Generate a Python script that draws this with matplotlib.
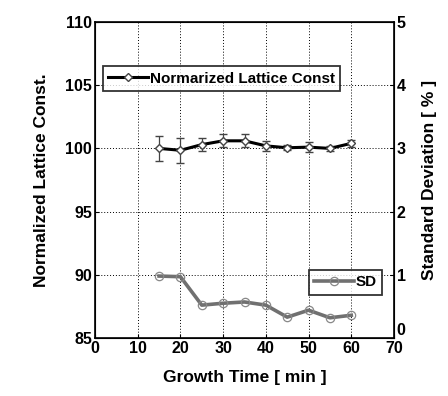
import matplotlib
matplotlib.use("Agg")
import matplotlib.pyplot as plt
from matplotlib.lines import Line2D

plt.rcParams['font.family'] = ['Liberation Sans', 'DejaVu Sans']
plt.rcParams['font.weight'] = 'bold'

time_min = [15, 20, 25, 30, 35, 40, 45, 50, 55, 60]
lattice = [100.0, 99.85, 100.3, 100.6, 100.6, 100.2, 100.05, 100.1, 100.0, 100.4]
lattice_err = [1.0, 1.0, 0.5, 0.5, 0.5, 0.4, 0.2, 0.4, 0.2, 0.3]
sd = [0.98, 0.97, 0.52, 0.55, 0.57, 0.52, 0.33, 0.44, 0.32, 0.36]

fig = plt.figure(figsize=(4.48, 3.96), dpi=100)
ax = fig.add_axes([95/448, 58/396, 299/448, 316/396])

ax.errorbar(time_min, lattice, yerr=lattice_err, color='black', lw=2.2,
            marker='D', ms=4, mfc='white', mec='#444444',
            ecolor='#444444', elinewidth=0.9, capsize=3)
ax.set_xlim(0, 70)
ax.set_ylim(85, 110)
ax.set_xticks(range(0, 71, 10))
ax.set_yticks(range(85, 111, 5))
ax.grid(True, ls=(0, (1, 2)), color='black', lw=0.7)
ax.tick_params(direction='in', labelsize=11.5, length=3, pad=2)
ax.set_xlabel('Growth Time [ min ]', fontsize=12.5, fontweight='bold', labelpad=10)
ax.set_ylabel('Normalized Lattice Const.', fontsize=12.5, fontweight='bold', labelpad=12)
for s in ax.spines.values():
    s.set_linewidth(1.2)

ax2 = ax.twinx()
ax2.plot(time_min, sd, color='#707070', lw=2.6, marker='o', ms=6,
         mfc='none', mec='#888888', mew=0.9)
ax2.set_ylim(0, 5)
ax2.set_yticks(range(0, 6))
ax2.tick_params(direction='in', labelsize=11.5, length=3, pad=2)
ax2.set_ylabel('Standard Deviation [ % ]', fontsize=12.5, fontweight='bold', labelpad=12)
ax2.get_yticklabels()[0].set_verticalalignment('bottom')

h1 = Line2D([], [], color='black', lw=2.2, marker='D', ms=4,
            mfc='white', mec='#444444')
h2 = Line2D([], [], color='#707070', lw=2.6, marker='o', ms=6,
            mfc='none', mec='#888888', mew=0.9)
leg1 = ax.legend([h1], ['Normarized Lattice Const'], loc='upper left',
                 bbox_to_anchor=(0.027, 0.86), fontsize=11,
                 frameon=True, fancybox=False, edgecolor='black',
                 handlelength=2.6, handletextpad=0.1, borderpad=0.35,
                 borderaxespad=0)
leg1.get_frame().set_linewidth(1.3)
leg2 = ax2.legend([h2], ['SD'], loc='upper right', bbox_to_anchor=(0.96, 0.215),
                  fontsize=11, frameon=True, fancybox=False, edgecolor='black',
                  handlelength=2.6, handletextpad=0.1, borderpad=0.35,
                  borderaxespad=0)
leg2.get_frame().set_linewidth(1.3)

fig.savefig('out.png', dpi=100)
